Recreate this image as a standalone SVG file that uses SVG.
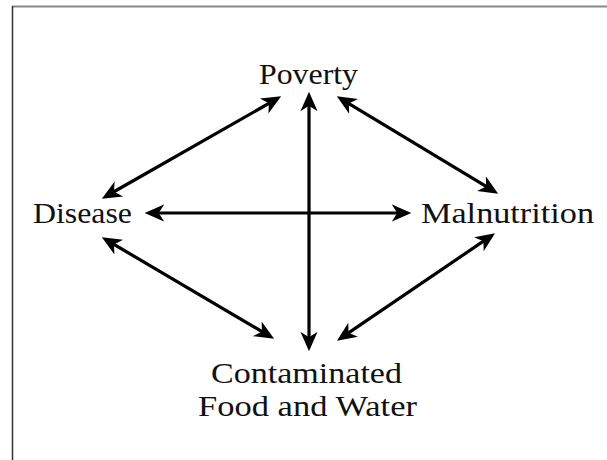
<svg xmlns="http://www.w3.org/2000/svg" width="607" height="460" viewBox="0 0 607 460">
<style>
.lbl{font-family:"Liberation Serif","Times New Roman",serif;font-size:30px;fill:#111;}
.con{stroke:#000;stroke-width:3.2;fill:none;marker-start:url(#ah);marker-end:url(#ah);}
</style>
<defs>
<marker id="ah" markerUnits="userSpaceOnUse" markerWidth="22" markerHeight="22" viewBox="0 -9 18 18" refX="10" refY="0" orient="auto-start-reverse">
<path d="M0,-7 L16,0 L0,7 L4.5,0 Z" fill="#000"/>
</marker>
</defs>
<rect width="607" height="460" fill="#fff"/>
<line x1="12" y1="6.5" x2="607" y2="6.5" stroke="#888" stroke-width="2"/>
<line x1="12.5" y1="6" x2="12.5" y2="460" stroke="#333" stroke-width="1.5"/>
<g id="connectors">
<path class="con" d="M108.2,195 L274.8,100"/>
<path class="con" d="M343.1,100.1 L491.9,189.9"/>
<path class="con" d="M108.2,241 L267.8,335"/>
<path class="con" d="M489,237.4 L343,336.6"/>
<path class="con" d="M152,213 L404,213"/>
<path class="con" d="M309,99 L309,344"/>
</g>
<g id="poverty"><text class="lbl" x="259" y="84" textLength="99" lengthAdjust="spacingAndGlyphs">Poverty</text></g>
<g id="disease"><text class="lbl" x="33" y="223" textLength="99" lengthAdjust="spacingAndGlyphs">Disease</text></g>
<g id="malnutrition"><text class="lbl" x="421" y="223" textLength="173" lengthAdjust="spacingAndGlyphs">Malnutrition</text></g>
<g id="contaminated">
<text class="lbl" x="211" y="383" textLength="191" lengthAdjust="spacingAndGlyphs">Contaminated</text>
<text class="lbl" x="198" y="416" textLength="219" lengthAdjust="spacingAndGlyphs">Food and Water</text>
</g>
</svg>
